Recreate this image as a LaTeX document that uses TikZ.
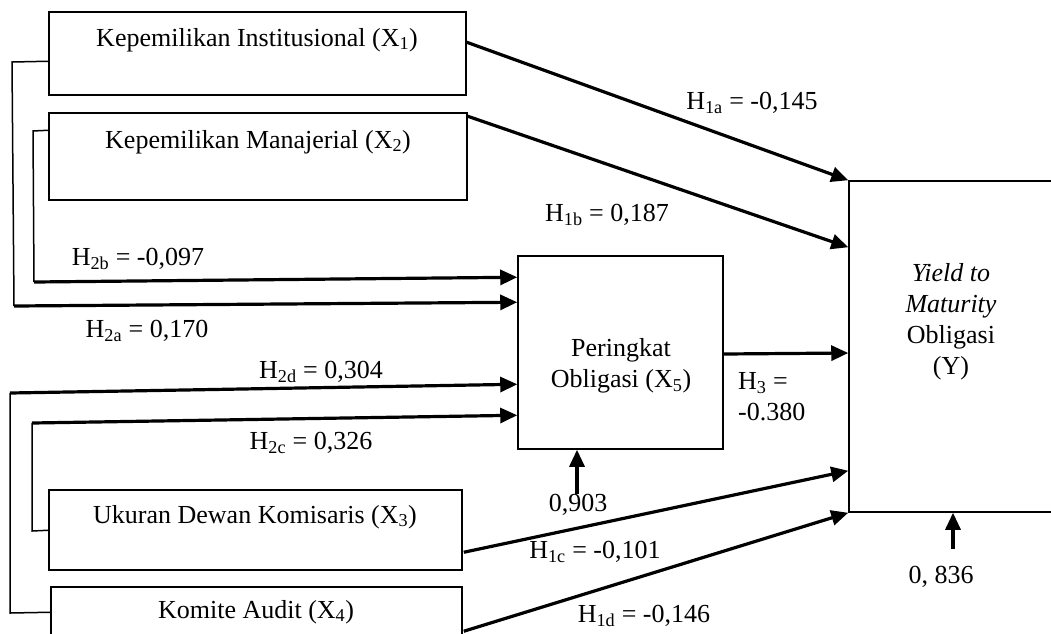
\documentclass[tikz,border=0pt]{standalone}
\usepackage{fontspec}
\setmainfont{Liberation Serif}
\usepackage{xcolor}
\usepackage{tikz}
\usetikzlibrary{calc,arrows.meta}
\definecolor{ink}{HTML}{000000}
\newcommand{\bigtxt}{\fontsize{26}{31}\selectfont}
\tikzset{
  box/.style={draw=ink, line width=1.5pt, inner sep=0pt},
  link/.style={draw=ink, line width=1.5pt, line join=miter},
  arr/.style={draw=ink, line width=3.2pt, -{Triangle[length=17pt,width=15pt]}},
  lab/.style={text=ink, font=\bigtxt, inner sep=0pt},
}

\begin{document}
\begin{tikzpicture}[x=1pt,y=-1pt]
  \useasboundingbox (0,0) rectangle (1051,633);
  \clip (0,0) rectangle (1051,633);
  \node[box, minimum width=417pt, minimum height=83pt] (X1) at (257.5,53.5) {};
  \node[box, minimum width=418pt, minimum height=87pt] (X2) at (258,156.5) {};
  \node[box, minimum width=413pt, minimum height=80pt] (X3) at (255.5,530) {};
  \node[box, minimum width=411pt, minimum height=80pt] (X4) at (256.5,627) {};
  \node[box, minimum width=205pt, minimum height=193pt] (X5) at (620.5,352.5) {};
  \node[box, minimum width=231pt, minimum height=331pt] (Y) at (964.5,346.5) {};
  \node[lab] (tX1) at (257,40) {Kepemilikan Institusional (X\textsubscript{1})};
  \node[lab] (tX2) at (258,142) {Kepemilikan Manajerial (X\textsubscript{2})};
  \node[lab] (tX3) at (255,517) {Ukuran Dewan Komisaris (X\textsubscript{3})};
  \node[lab] (tX4) at (256,612) {Komite Audit (X\textsubscript{4})};
  \node[lab, align=center] (tX5) at (621,366) {Peringkat\\Obligasi (X\textsubscript{5})};
  \node[lab, align=center] (tY) at (951,322) {\textit{Yield to}\\\textit{Maturity}\\Obligasi\\(Y)};
  \coordinate (k1) at (12,62);
  \coordinate (k2) at (33,131);
  \coordinate (k3) at (32,531);
  \coordinate (k4) at (10,613);
  \coordinate (b1) at (14,306);
  \coordinate (b2) at (34,282);
  \coordinate (b3) at (32,423);
  \coordinate (b4) at (10,393);
  \draw[link] ($(X1.north west)+(0,50)$) -- (k1) -- (b1);
  \draw[link] ($(X2.north west)+(0,18)$) -- (k2) -- (b2);
  \draw[link] ($(X3.north west)+(0,41)$) -- (k3) -- (b3);
  \draw[link] ($(X4.north west)+(0,26)$) -- (k4) -- (b4);
  \draw[arr] (b2) -- ($(X5.north west)+(0,22)$);
  \draw[arr] (b1) -- ($(X5.north west)+(0,47)$);
  \draw[arr] (b4) -- ($(X5.north west)+(0,129)$);
  \draw[arr] (b3) -- ($(X5.north west)+(0,160)$);
  \draw[arr] ($(X1.north east)+(0,31)$) -- (Y.north west);
  \draw[arr] ($(X2.north east)+(0,4)$) -- ($(Y.north west)+(0,67)$);
  \draw[arr] ($(X5.east)+(0,1.5)$) -- ($(X5.east -| Y.west)+(0,0.5)$);
  \draw[arr] ($(X3.north east)+(1,63)$) -- ($(Y.south west)+(0,-42)$);
  \draw[arr] ($(X4.north east)+(1,45)$) -- (Y.south west);
  \coordinate (e1) at (577,494);
  \coordinate (e2) at (953,549);
  \draw[arr] (e1) -- (e1 |- X5.south);
  \draw[arr] (e2) -- (e2 |- Y.south);
  \node[lab] (h1a) at (752,103) {H\textsubscript{1a} = -0,145};
  \node[lab] (h1b) at (607,215) {H\textsubscript{1b} = 0,187};
  \node[lab] (h2b) at (138,259) {H\textsubscript{2b} = -0,097};
  \node[lab] (h2a) at (147,331) {H\textsubscript{2a} = 0,170};
  \node[lab] (h2d) at (321,372) {H\textsubscript{2d} = 0,304};
  \node[lab] (h2c) at (311,443) {H\textsubscript{2c} = 0,326};
  \node[lab, align=left, anchor=west] (h3) at (738,397) {H\textsubscript{3} =\\-0.380};
  \node[lab] (h1c) at (595,552) {H\textsubscript{1c} = -0,101};
  \node[lab] (h1d) at (644,616) {H\textsubscript{1d} = -0,146};
  \node[lab] (e903) at (578,505) {0,903};
  \node[lab] (e836) at (941,577) {0, 836};
\end{tikzpicture}
\end{document}
